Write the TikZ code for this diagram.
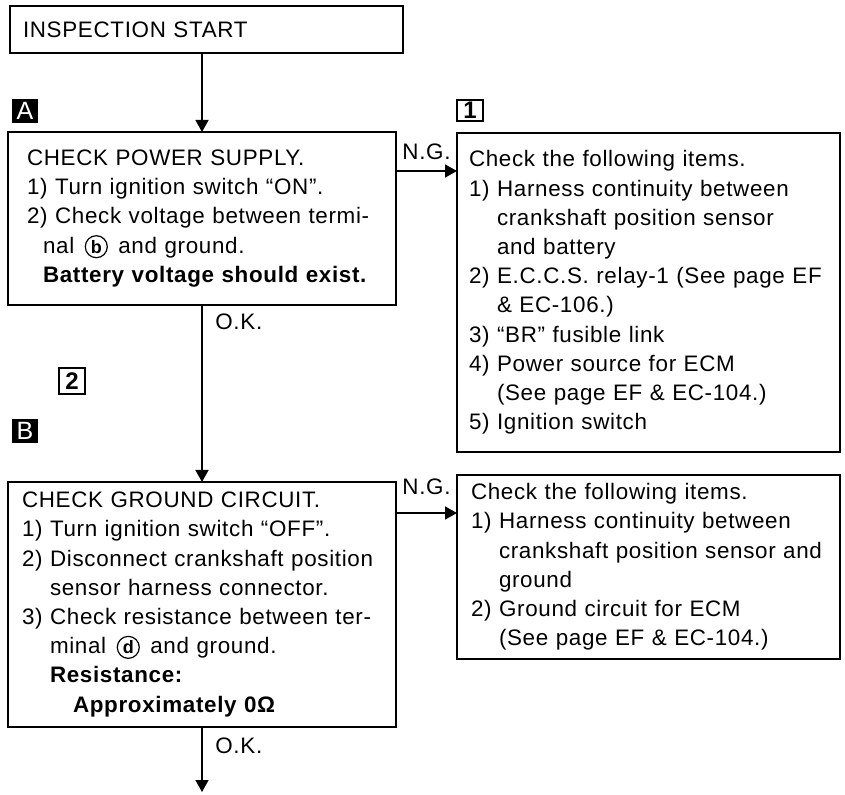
\documentclass[tikz,border=0pt]{standalone}
\usepackage{fontspec}
\setmainfont{Liberation Sans}[LetterSpace=3]
\usepackage{tikz}
\usetikzlibrary{arrows.meta, positioning}
\newcommand{\term}[1]{\hspace{1.5pt}\tikz[baseline=(t.base)]\node[draw, circle, line width=0.6pt, inner sep=0pt, minimum size=11pt, text width=6pt, align=center, font=\fontsize{9}{9}\selectfont\bfseries] (t) {#1};\hspace{1.5pt}}
\newcommand{\contline}{\hspace*{14pt}}
\tikzset{
  startbox/.style={rectangle, draw=black, line width=1pt, outer sep=0pt, inner xsep=6.5pt, text width=183.5pt, minimum height=23.5pt, align=left},
  checkbox/.style={rectangle, draw=black, line width=1pt, outer sep=0pt, inner xsep=7pt, align=left},
  markfill/.style={rectangle, fill=black, text=white, minimum width=13pt, minimum height=12pt, inner sep=0pt, outer sep=0pt, font=\fontsize{12.5}{12.5}\selectfont},
  markbox/.style={rectangle, draw=black, line width=0.8pt, minimum width=13pt, minimum height=10.5pt, inner sep=0pt, outer sep=0pt, font=\fontsize{12}{12}\selectfont\bfseries},
  branch/.style={inner sep=0pt},
  arrow/.style={line width=0.75pt, -{Triangle[length=6pt, width=6.5pt]}}
}

\begin{document}
\begin{tikzpicture}[every node/.style={font=\fontsize{11.2}{14.6}\selectfont}]
\useasboundingbox (0,0) rectangle (422.5pt,-397.5pt);
% Checks - left column, items to check on the right
\node[startbox, anchor=north west] (start) at (5pt,-3pt) {INSPECTION START};
\node[checkbox, below=39.5pt of start.south west, anchor=north west, xshift=-1pt, inner xsep=9.5pt, text width=175pt, minimum height=86.5pt] (chkA) {CHECK POWER SUPPLY.\\
1) Turn ignition switch “ON”.\\
2) Check voltage between termi-\\
\hspace*{8pt}nal \term{b} and ground.\\
\hspace*{8pt}\textbf{Battery voltage should exist.}};
\node[checkbox, right=30.5pt of chkA.north east, anchor=north west, yshift=-0.5pt, inner xsep=6pt, text width=179.5pt, minimum height=159.5pt] (chk1) {Check the following items.\\
1) Harness continuity between\\
\contline crankshaft position sensor\\
\contline and battery\\
2) E.C.C.S. relay-1 (See page EF\\
\contline \& EC-106.)\\
3) “BR” fusible link\\
4) Power source for ECM\\
\contline (See page EF \& EC-104.)\\
5) Ignition switch};
\node[checkbox, below=88.5pt of chkA.south west, anchor=north west, text width=180pt, minimum height=122.5pt] (chkB) {CHECK GROUND CIRCUIT.\\
1) Turn ignition switch “OFF”.\\
2) Disconnect crankshaft position\\
\contline sensor harness connector.\\
3) Check resistance between ter-\\
\contline minal \term{d} and ground.\\
\contline\textbf{Resistance:}\\
\hspace*{25.5pt}\textbf{Approximately 0Ω}};
\node[checkbox, right=30.5pt of chkB.north east, anchor=north west, yshift=3.5pt, text width=177.5pt, minimum height=92pt] (chk2) {Check the following items.\\
1) Harness continuity between\\
\contline crankshaft position sensor and\\
\contline ground\\
2) Ground circuit for ECM\\
\contline (See page EF \& EC-104.)};

\node[markfill, above=4.5pt of chkA.north west, anchor=south west, xshift=2pt] (markA) {A};
\node[markbox, above=6pt of chk1.north west, anchor=south west] (mark1) {1};
\node[markbox, minimum height=13pt, below=31.5pt of chkA.south west, anchor=north west, xshift=25.5pt] (mark2) {2};
\node[markfill, above=19.5pt of chkB.north west, anchor=south west, xshift=2pt] (markB) {B};

\coordinate (ngA) at ([yshift=-19.5pt]chkA.north east);
\coordinate (ngB) at ([yshift=-15.5pt]chkB.north east);
\coordinate[below=32.5pt of chkB.south] (next);

\draw[arrow] (start.south -| chkA.north) -- (chkA.north);
\draw[arrow] (chkA.south) -- (chkB.north);
\draw[arrow] (chkB.south) -- (next);
\draw[arrow] (ngA) -- (ngA -| chk1.west) node[midway, above=5.5pt, anchor=base] (ngtextA) {N.G.};
\draw[arrow] (ngB) -- (ngB -| chk2.west) node[midway, above=9pt, anchor=base] (ngtextB) {N.G.};
\node[branch, anchor=base west] (okA) at ([xshift=6.5pt, yshift=-12.5pt]chkA.south) {O.K.};
\node[branch, anchor=base west] (okB) at ([xshift=6.5pt, yshift=-13pt]chkB.south) {O.K.};
\end{tikzpicture}
\end{document}
